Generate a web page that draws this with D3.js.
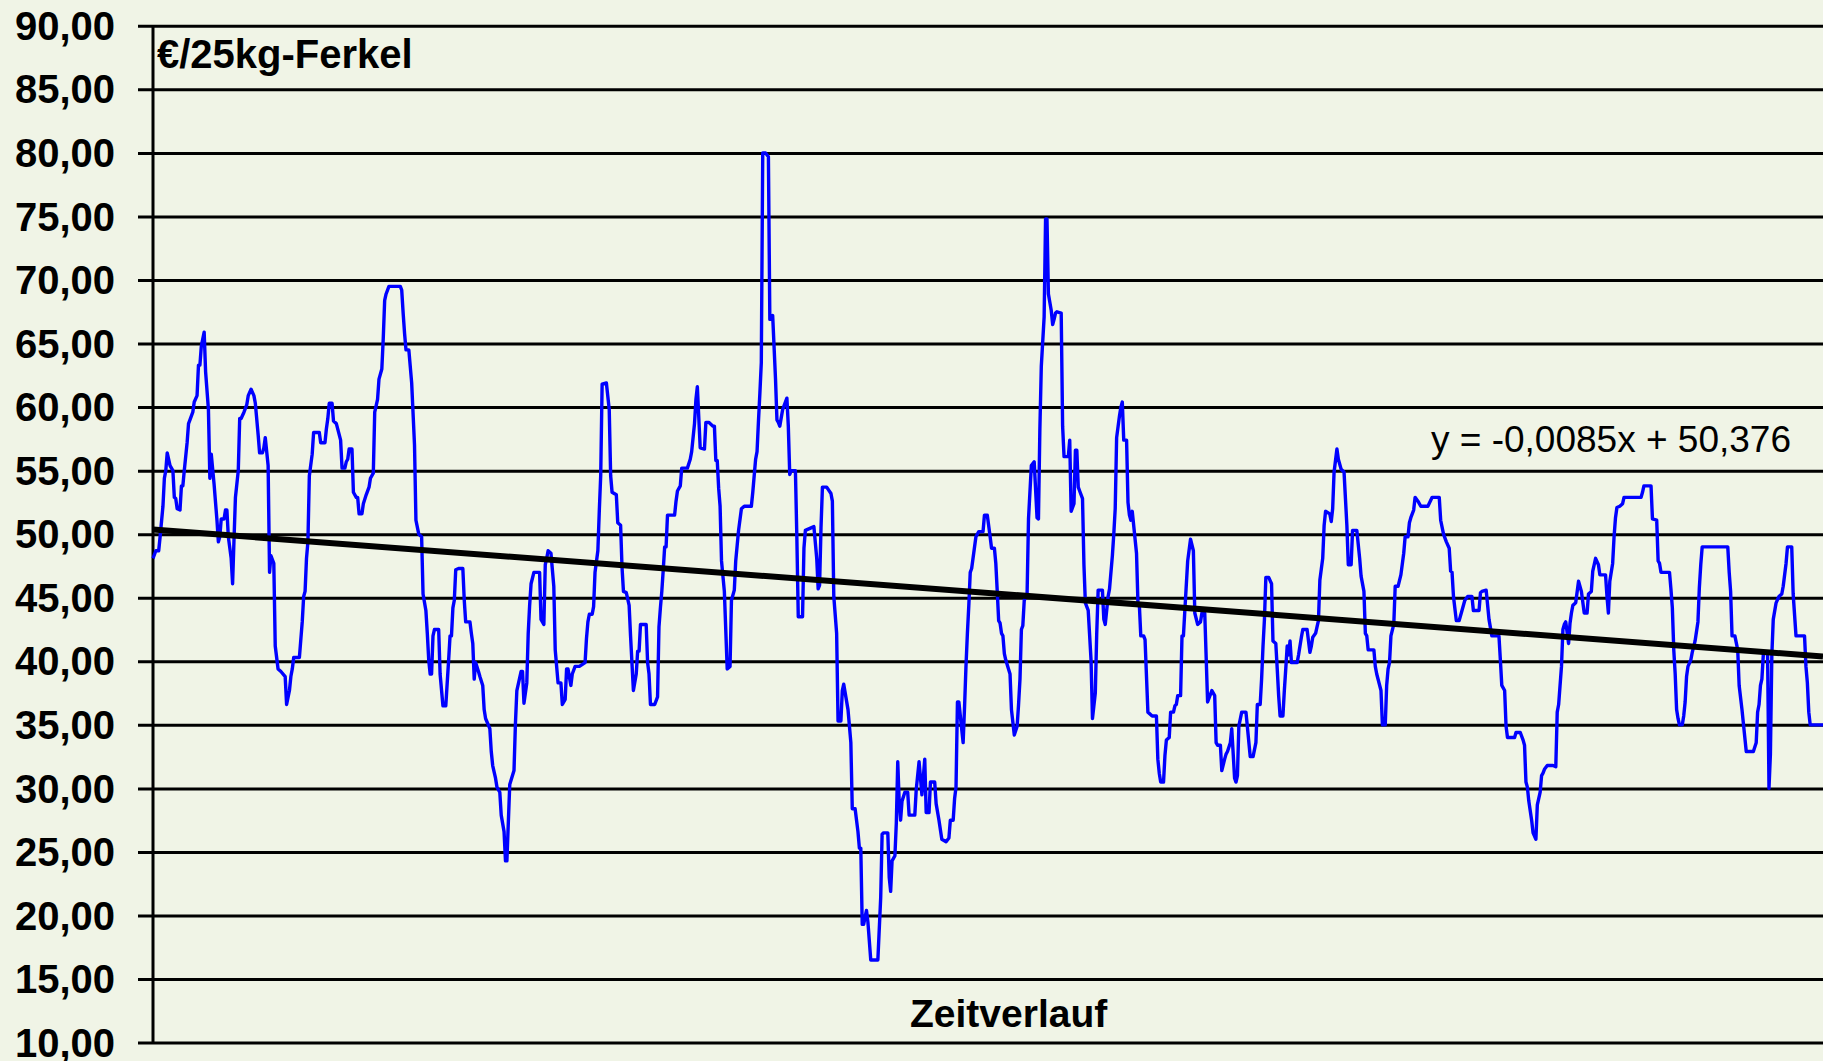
<!DOCTYPE html>
<html>
<head>
<meta charset="utf-8">
<script src="https://cdn.jsdelivr.net/npm/d3@7"></script>
<style>
html, body { margin: 0; padding: 0; background: #f0f4e6; overflow: hidden; }
svg { display: block; }
</style>
</head>
<body>
<script>
// Ferkelpreis (EUR je 25kg-Ferkel), Wochenwerte als [Woche, Preis]
// nur die Knickpunkte der Linie, dazwischen gerade Verbindung
var anzahlWochen = 1176;

var verlauf = [
	[1,48.1],[3,48.7],[5,48.7],[6,49.8],[8,52.2],[9,54.4],[10,55.0],[11,56.4],[13,55.4],[15,55.0],[16,52.9],[17,52.8],[18,52.0],[20,51.9],
	[21,53.8],[22,53.8],[23,55.0],[25,57.2],[26,58.7],[27,59.0],[29,59.6],[30,60.4],[32,60.9],[33,63.3],[34,63.3],[35,64.8],[37,65.9],[38,62.8],
	[40,59.8],[41,54.4],[42,56.3],[44,53.9],[46,51.1],[47,49.4],[48,49.8],[49,51.2],[51,51.2],[52,51.9],[53,51.9],[54,49.8],[56,48.1],[57,46.1],
	[58,49.6],[59,52.9],[61,55.0],[62,59.1],[63,59.1],[65,59.6],[67,60.2],[68,60.9],[70,61.4],[72,60.9],[73,60.3],[75,57.8],[76,56.4],[78,56.4],
	[79,56.8],[80,57.6],[82,55.4],[83,47.0],[84,48.3],[86,47.7],[87,41.2],[89,39.4],[91,39.2],[94,38.8],[95,36.6],[97,37.7],[98,38.8],[99,39.4],
	[100,40.3],[104,40.3],[106,43.1],[107,45.1],[108,45.5],[109,48.1],[110,49.4],[111,54.6],[113,56.3],[114,58.0],[118,58.0],[119,57.2],[122,57.2],
	[123,58.3],[124,59.1],[125,60.3],[127,60.3],[128,58.9],[130,58.7],[133,57.4],[134,55.2],[136,55.2],[137,55.7],[138,55.9],[139,56.7],[141,56.7],
	[142,53.3],[144,52.9],[145,52.9],[146,51.6],[148,51.6],[149,52.4],[151,53.1],[153,53.7],[154,54.4],[156,54.8],[157,59.6],[159,60.6],[160,62.2],
	[162,63.0],[163,65.4],[164,68.4],[165,68.9],[167,69.5],[175,69.5],[176,69.2],[177,67.4],[178,65.8],[179,64.5],[181,64.5],[183,61.9],[185,57.0],
	[186,51.1],[188,50.0],[190,49.8],[191,45.3],[193,44.0],[194,42.2],[195,40.1],[196,39.0],[197,39.0],[198,42.0],
	[199,42.5],[202,42.5],[203,39.0],[205,36.5],[207,36.5],[208,38.3],[209,40.1],[210,42.0],[211,42.0],[212,44.2],[213,44.8],[214,47.2],[216,47.3],
	[219,47.3],[220,44.8],[221,43.1],[224,43.1],[225,42.2],[226,41.4],[227,38.6],[228,39.9],[230,39.2],[231,38.8],[233,38.1],[234,36.2],[235,35.5],
	[238,34.7],[239,32.9],[240,31.8],[242,30.8],[243,30.1],[245,29.7],[246,27.9],[248,26.6],[249,24.3],[250,24.3],[252,30.3],[255,31.4],[256,35.1],
	[257,37.7],[260,39.2],[261,39.2],[262,36.7],[264,38.3],[265,42.2],[266,44.4],[267,46.1],[269,47.0],[273,47.0],[274,43.3],[276,42.9],[277,47.6],
	[278,48.1],[279,48.7],[281,48.5],[283,45.9],[284,40.9],[286,38.3],[288,38.3],[289,36.6],[291,37.0],[292,39.4],[293,39.4],[295,38.1],[296,39.0],
	[298,39.6],[301,39.6],[305,39.9],[306,41.8],[307,43.1],[308,43.7],[310,43.7],[311,44.3],[312,47.0],[314,48.7],[315,51.8],[316,54.6],[317,61.8],
	[320,61.9],[322,59.8],[323,54.6],[324,53.3],[327,53.1],[328,50.9],[330,50.7],[331,47.4],[332,45.5],[334,45.4],[336,44.4],[337,42.0],[339,37.7],
	[341,39.0],[342,40.8],[343,40.8],[344,42.9],[348,42.9],[349,39.9],[350,39.0],[351,36.6],[354,36.6],[356,37.2],[357,42.7],[358,44.2],[359,45.5],
	[360,47.2],[361,49.0],[362,49.0],[363,51.5],[368,51.5],[369,52.6],[370,53.4],[372,53.8],[373,55.2],[377,55.2],[379,55.9],[380,56.5],[382,58.7],
	[383,60.6],[384,61.6],[386,56.8],[389,56.7],[390,58.8],[392,58.8],[395,58.5],
	[396,58.5],[397,55.8],[398,55.8],[399,53.6],[400,52.2],[401,47.9],[403,45.5],[405,39.4],[407,39.6],[408,44.8],[410,45.6],[411,47.9],[413,50.3],
	[415,52.0],[417,52.2],[422,52.2],[423,53.3],[425,55.9],[426,56.5],[427,58.9],[428,61.1],[429,63.5],[430,80.0],[432,80.0],[434,79.7],[435,66.9],
	[436,66.9],[437,67.2],[439,62.2],[440,59.0],[441,58.8],[442,58.5],[444,59.8],[447,60.7],[448,58.5],[449,54.7],[450,55.0],[453,55.0],[454,49.8],
	[455,43.5],[458,43.5],[459,48.9],[460,50.3],[466,50.6],[468,48.1],[469,45.7],[470,46.0],[471,50.5],[472,53.7],[475,53.7],[478,53.2],[479,52.6],
	[480,45.1],[482,42.2],[483,35.3],[485,35.3],[486,37.7],[487,38.2],[490,36.2],[492,33.6],[493,28.4],[495,28.4],[497,26.6],[498,25.3],[499,25.3],
	[500,19.3],[501,19.3],[503,20.4],[504,19.5],[506,16.5],[511,16.5],[513,21.4],[514,26.4],[515,26.5],[518,26.5],[519,23.0],[520,21.9],[521,24.3],
	[523,24.7],[524,27.3],[525,32.1],[526,29.0],[527,27.5],[528,29.0],[530,29.7],[532,29.7],[533,27.9],[537,27.9],[538,29.9],[540,32.1],[542,29.5],
	[544,32.3],[545,28.1],[547,28.1],[548,30.5],[551,30.5],[552,28.8],[554,27.5],[556,26.0],[559,25.8],[561,26.1],[562,27.5],[564,27.5],[565,29.2],
	[566,30.1],[567,36.8],[568,36.8],[571,33.6],[572,36.4],[573,39.6],[574,42.2],[575,44.4],[576,47.0],[577,47.3],[580,49.8],[582,50.2],[585,50.2],
	[586,51.5],[588,51.5],[590,49.8],[591,48.9],
	[593,48.9],[594,47.7],[595,45.5],[596,43.2],[597,43.0],[598,42.2],[599,42.0],[600,40.6],[601,40.1],[604,39.0],[605,36.2],[607,34.2],[609,34.9],
	[610,36.6],[611,38.6],[612,42.5],[613,42.8],[614,44.8],[616,45.3],[617,51.2],[619,55.4],[621,55.7],[623,51.3],[624,51.2],[625,58.3],[626,63.2],
	[628,67.1],[629,74.8],[630,74.8],[631,68.9],[633,67.6],[634,66.5],[635,66.9],[636,67.4],[637,67.5],[640,67.4],[641,58.5],[642,56.1],[645,56.1],
	[646,57.4],[647,51.8],[649,52.4],[650,56.6],[651,56.6],[652,53.7],[653,53.4],[655,52.8],[656,47.6],[657,44.6],[659,44.0],[661,40.1],[662,35.5],
	[664,37.5],[665,42.2],[666,45.6],[669,45.6],[670,43.3],[671,42.9],[673,45.1],[674,45.7],[676,48.3],[677,50.0],[678,52.0],[679,57.6],[681,59.3],
	[682,60.0],[683,60.4],[684,57.4],[686,57.4],[687,52.5],[688,51.5],[689,51.1],[690,51.8],[693,48.5],[694,44.6],[695,44.4],[696,42.0],[698,42.0],
	[699,41.7],[701,36.0],[704,35.7],[707,35.7],[708,32.3],[709,31.2],[710,30.5],[712,30.5],[713,32.6],[714,33.8],[716,34.0],[717,36.0],[719,36.0],
	[720,36.5],[721,36.6],[722,37.3],[724,37.3],[725,42.0],[726,42.0],[727,44.0],[729,47.9],[731,49.6],[733,48.7],[734,43.8],[736,42.9],[738,43.1],
	[739,43.8],[741,43.8],[743,36.8],[746,37.7],[748,37.3],[749,33.6],[750,33.4],[752,33.4],[753,31.4],[755,32.3],[756,32.7],[757,32.9],[759,33.6],
	[760,34.7],[762,30.8],[763,30.5],[764,31.0],[765,34.9],[767,36.0],[770,36.0],[773,32.5],[775,32.5],[777,33.6],[778,36.6],[780,36.6],[781,38.6],
	[782,41.2],[783,43.3],[784,46.6],[786,46.6],[788,46.1],[789,41.6],
	[791,41.4],[792,39.4],[793,37.3],[794,35.7],[796,35.7],[797,37.7],[798,39.4],[799,41.2],[800,40.5],[801,41.6],[802,39.9],[806,39.9],[807,40.5],
	[808,41.2],[809,41.9],[810,42.5],[813,42.5],[815,40.7],[816,41.2],[817,41.9],[819,42.2],[820,42.7],[821,43.2],[822,46.4],[824,48.1],[825,50.7],
	[826,51.8],[829,51.6],[830,51.0],[831,52.0],[832,54.9],[834,56.7],[835,55.9],[837,55.1],[839,54.9],[840,52.8],[841,50.7],[842,47.6],[844,47.6],
	[845,50.3],[848,50.3],[850,48.1],[851,46.7],[853,45.5],[854,42.2],[855,42.0],[856,40.9],[860,40.9],[861,39.6],[862,39.0],[865,37.7],[866,35.0],
	[868,35.0],[869,38.1],[870,39.4],[871,39.9],[872,42.0],[874,42.9],[875,45.9],[877,45.9],[879,46.8],[881,48.5],[882,49.8],[884,49.8],[885,50.9],
	[886,51.3],[888,51.9],[889,52.9],[891,52.6],[893,52.2],[898,52.2],[901,52.9],[906,52.9],[907,51.1],[909,50.0],[911,49.4],[913,48.9],[914,47.1],
	[915,47.0],[916,45.1],[918,43.2],[920,43.2],[922,44.0],[924,44.8],[926,45.1],[929,45.1],[930,44.0],[934,44.0],[935,45.4],[936,45.5],[939,45.6],
	[941,43.3],[943,42.0],[948,42.0],[949,40.1],[950,38.1],[952,37.7],[953,34.9],[954,34.0],[959,34.0],[960,34.4],[963,34.4],[965,33.8],[966,33.4],
	[967,30.5],[968,30.1],[969,29.0],[971,27.5],[972,26.5],[974,26.0],[975,28.7],[977,29.7],[978,31.0],[979,31.2],[980,31.5],[982,31.8],[986,31.8],
	[988,31.7],[989,36.0],[990,36.6],[991,38.1],[992,39.6],[993,42.5],[994,42.9],[995,43.1],[997,41.4],[998,43.0],[999,43.8],[1000,44.4],[1002,44.6],
	[1004,46.3],[1006,45.5],[1008,43.8],[1010,43.8],[1011,45.3],[1013,45.5],[1014,47.1],[1016,48.1],[1018,47.6],[1019,46.8],[1023,46.8],[1024,45.1],
	[1025,43.8],[1026,46.3],[1028,47.7],[1029,49.8],[1030,51.3],[1031,52.1],[1033,52.2],[1035,52.4],[1036,52.9],[1048,52.9],[1049,53.3],[1050,53.8],
	[1055,53.8],[1056,51.2],[1059,51.1],[1060,47.9],[1061,47.7],[1062,47.0],[1068,47.0],[1069,45.7],[1070,44.2],[1071,40.9],[1072,39.0],[1073,36.2],
	[1074,35.5],[1075,35.0],[1077,35.0],[1078,35.7],[1079,36.8],[1080,38.8],[1081,39.6],[1083,40.1],[1084,40.7],[1086,41.6],[1088,43.1],[1089,45.8],
	[1090,47.6],[1091,49.0],[1109,49.0],[1110,47.0],[1111,45.5],[1112,42.0],[1114,42.0],[1116,40.9],[1117,38.1],[1119,36.2],[1120,35.1],[1121,34.0],
	[1122,32.9],[1127,32.9],[1129,33.6],[1130,36.0],[1131,36.6],[1132,38.1],[1133,38.6],[1134,40.5],[1135,40.7],[1137,40.7],[1138,30.0],[1139,32.7],
	[1140,40.5],[1141,43.3],[1143,44.6],[1145,45.1],[1147,45.3],[1148,45.9],[1150,47.7],[1151,49.0],[1154,49.0],[1155,45.3],[1157,42.0],[1163,42.0],
	[1164,39.6],[1165,38.3],[1166,36.0],[1167,35.0],[1176,35.0]
];

// lineare Trendlinie y = m*x + b
var trendM = -0.0085;
var trendB = 50.376;

var yTicks = [10, 15, 20, 25, 30, 35, 40, 45, 50, 55, 60, 65, 70, 75, 80, 85, 90];
var yTitel = '€/25kg-Ferkel';
var xTitel = 'Zeitverlauf';
var trendText = 'y = -0,0085x + 50,376';

var width = 1823, height = 1061;
var plotLeft = 153, plotRight = 1823;
var font = '"Liberation Sans", Arial, Helvetica, sans-serif';

var de = d3.formatLocale({ decimal: ',', thousands: '.', grouping: [3], currency: ['', ' €'] });
var fmt = de.format('.2f');

var x = d3.scaleLinear().domain([1, anzahlWochen]).range([plotLeft, plotRight]);
var y = d3.scaleLinear().domain([10, 90]).range([1042.6, 25.8]);

var svg = d3.select('body').append('svg')
	.attr('width', width)
	.attr('height', height);

svg.append('rect')
	.attr('width', width)
	.attr('height', height)
	.attr('fill', '#f0f4e6');

// Gitterlinien + Beschriftung
var gy = svg.append('g')
	.attr('transform', 'translate(' + plotLeft + ',0)')
	.call(d3.axisLeft(y)
		.tickValues(yTicks)
		.tickFormat(fmt)
		.tickSizeInner(-(plotRight - plotLeft))
		.tickSizeOuter(0)
		.tickPadding(38));

gy.select('.domain').remove();
gy.selectAll('.tick line')
	.attr('x1', -15)
	.attr('stroke', '#000')
	.attr('stroke-width', 3);
gy.selectAll('.tick text')
	.attr('font-family', font)
	.attr('font-size', 40)
	.attr('font-weight', 'bold')
	.attr('fill', '#000')
	.attr('dy', '0.34em');

// y-Achse
svg.append('line')
	.attr('x1', plotLeft).attr('x2', plotLeft)
	.attr('y1', y(90)).attr('y2', y(10))
	.attr('stroke', '#000')
	.attr('stroke-width', 3);

// Preisverlauf
var line = d3.line()
	.x(function(d) { return x(d[0]); })
	.y(function(d) { return y(d[1]); });

svg.append('path')
	.datum(verlauf)
	.attr('d', line)
	.attr('fill', 'none')
	.attr('stroke', '#0000ff')
	.attr('stroke-width', 3.4)
	.attr('stroke-linejoin', 'round');

// Trendlinie
var trend = [1, anzahlWochen].map(function(w) { return [w, trendM * w + trendB]; });
svg.append('path')
	.datum(trend)
	.attr('d', line)
	.attr('fill', 'none')
	.attr('stroke', '#000')
	.attr('stroke-width', 6);

// Texte
svg.append('text')
	.attr('x', 157).attr('y', 68)
	.attr('font-family', font)
	.attr('font-size', 40)
	.attr('font-weight', 'bold')
	.text(yTitel);

svg.append('text')
	.attr('x', 910).attr('y', 1027)
	.attr('font-family', font)
	.attr('font-size', 39)
	.attr('font-weight', 'bold')
	.text(xTitel);

svg.append('text')
	.attr('x', 1431).attr('y', 452)
	.attr('font-family', font)
	.attr('font-size', 37)
	.text(trendText);
</script>
</body>
</html>
